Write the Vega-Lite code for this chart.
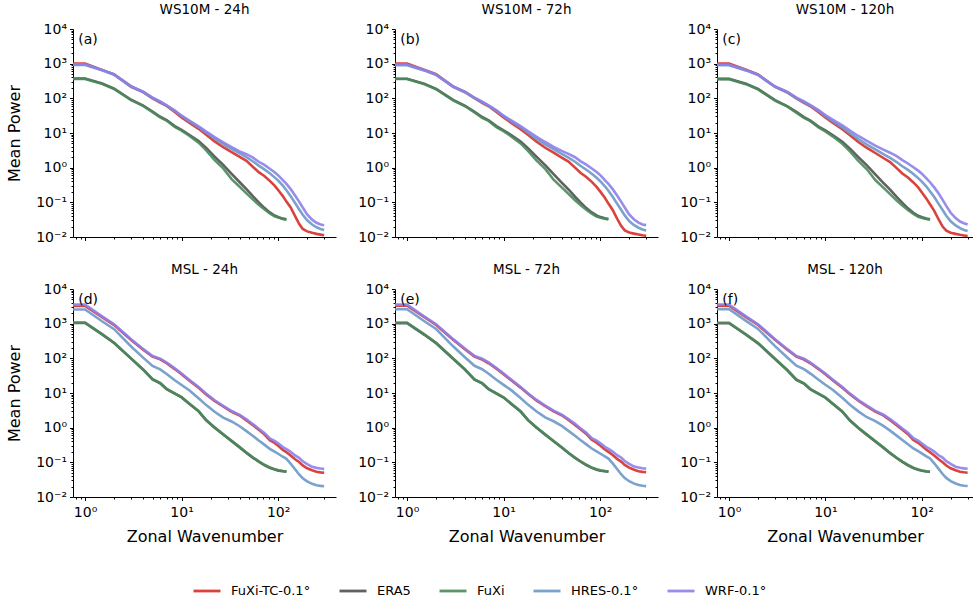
{
"$schema": "https://vega.github.io/schema/vega-lite/v6.json",
"background": "white",
"padding": {"left": 6, "top": 2, "right": 0, "bottom": 0},
"datasets": {
"lab": [{"p":"a","t":"(a)"},{"p":"b","t":"(b)"},{"p":"c","t":"(c)"},{"p":"d","t":"(d)"},{"p":"e","t":"(e)"},{"p":"f","t":"(f)"}],
"spec": [
{"p":"a","k":0.75,"TC":1000,"ERA5":372,"FuXi":363,"HRES":912,"WRF":955},
{"p":"a","k":1,"TC":1000,"ERA5":372,"FuXi":363,"HRES":912,"WRF":955},
{"p":"a","k":1.5,"TC":661,"ERA5":269,"FuXi":263,"HRES":646,"WRF":661},
{"p":"a","k":2,"TC":490,"ERA5":191,"FuXi":186,"HRES":479,"WRF":490},
{"p":"a","k":3,"TC":214,"ERA5":91.2,"FuXi":89.1,"HRES":219,"WRF":224},
{"p":"a","k":4,"TC":151,"ERA5":61.7,"FuXi":60.3,"HRES":151,"WRF":155},
{"p":"a","k":5,"TC":100,"ERA5":41.7,"FuXi":39.8,"HRES":102,"WRF":105},
{"p":"a","k":6,"TC":75.9,"ERA5":29.5,"FuXi":28.2,"HRES":79.4,"WRF":81.3},
{"p":"a","k":7,"TC":60.3,"ERA5":23.4,"FuXi":22.9,"HRES":61.7,"WRF":63.1},
{"p":"a","k":8.5,"TC":40.7,"ERA5":15.8,"FuXi":15.1,"HRES":43.7,"WRF":44.7},
{"p":"a","k":10,"TC":28.2,"ERA5":12.3,"FuXi":11.7,"HRES":30.9,"WRF":31.6},
{"p":"a","k":12,"TC":20.0,"ERA5":8.91,"FuXi":8.32,"HRES":21.9,"WRF":22.9},
{"p":"a","k":15,"TC":13.2,"ERA5":5.89,"FuXi":5.25,"HRES":14.8,"WRF":15.5},
{"p":"a","k":18,"TC":8.91,"ERA5":3.72,"FuXi":3.16,"HRES":10.2,"WRF":11.0},
{"p":"a","k":22,"TC":5.75,"ERA5":2.09,"FuXi":1.66,"HRES":6.92,"WRF":7.59},
{"p":"a","k":27,"TC":3.89,"ERA5":1.20,"FuXi":0.955,"HRES":4.79,"WRF":5.37},
{"p":"a","k":33,"TC":2.82,"ERA5":0.661,"FuXi":0.468,"HRES":3.47,"WRF":3.89},
{"p":"a","k":40,"TC":2.04,"ERA5":0.380,"FuXi":0.282,"HRES":2.57,"WRF":2.95},
{"p":"a","k":47,"TC":1.58,"ERA5":0.240,"FuXi":0.182,"HRES":2.00,"WRF":2.45},
{"p":"a","k":55,"TC":1.05,"ERA5":0.148,"FuXi":0.120,"HRES":1.51,"WRF":1.95},
{"p":"a","k":63,"TC":0.741,"ERA5":0.100,"FuXi":0.0851,"HRES":1.15,"WRF":1.48},
{"p":"a","k":72,"TC":0.575,"ERA5":0.0692,"FuXi":0.0631,"HRES":0.891,"WRF":1.20},
{"p":"a","k":82,"TC":0.417,"ERA5":0.0513,"FuXi":0.0479,"HRES":0.692,"WRF":0.933},
{"p":"a","k":92,"TC":0.302,"ERA5":0.0417,"FuXi":0.0398,"HRES":0.525,"WRF":0.741},
{"p":"a","k":101,"TC":0.219,"ERA5":0.0372,"FuXi":0.0363,"HRES":0.417,"WRF":0.589},
{"p":"a","k":112,"TC":0.151,"ERA5":0.0339,"FuXi":0.0331,"HRES":0.302,"WRF":0.437},
{"p":"a","k":122,"TC":0.105,"ERA5":0.0324,"FuXi":0.0316,"HRES":0.224,"WRF":0.339},
{"p":"a","k":135,"TC":0.0708,"HRES":0.151,"WRF":0.240},
{"p":"a","k":150,"TC":0.0398,"HRES":0.0955,"WRF":0.158},
{"p":"a","k":165,"TC":0.0240,"HRES":0.0631,"WRF":0.105},
{"p":"a","k":180,"TC":0.0170,"HRES":0.0437,"WRF":0.0708},
{"p":"a","k":200,"TC":0.0145,"HRES":0.0302,"WRF":0.0447},
{"p":"a","k":225,"TC":0.0132,"HRES":0.0229,"WRF":0.0316},
{"p":"a","k":250,"TC":0.0123,"HRES":0.0191,"WRF":0.0257},
{"p":"a","k":275,"TC":0.0117,"HRES":0.0170,"WRF":0.0229},
{"p":"a","k":300,"TC":0.0112,"HRES":0.0158,"WRF":0.0219},

{"p":"b","k":0.75,"TC":1000,"ERA5":368,"FuXi":360,"HRES":905,"WRF":950},
{"p":"b","k":1,"TC":1000,"ERA5":368,"FuXi":360,"HRES":905,"WRF":950},
{"p":"b","k":1.5,"TC":670,"ERA5":265,"FuXi":258,"HRES":640,"WRF":655},
{"p":"b","k":2,"TC":495,"ERA5":188,"FuXi":183,"HRES":470,"WRF":485},
{"p":"b","k":3,"TC":218,"ERA5":90,"FuXi":87,"HRES":215,"WRF":222},
{"p":"b","k":4,"TC":150,"ERA5":60.5,"FuXi":59,"HRES":150,"WRF":154},
{"p":"b","k":5,"TC":101,"ERA5":41,"FuXi":39,"HRES":101,"WRF":104},
{"p":"b","k":6,"TC":74,"ERA5":29,"FuXi":27.5,"HRES":78,"WRF":80},
{"p":"b","k":7,"TC":59,"ERA5":23,"FuXi":22.3,"HRES":61,"WRF":63},
{"p":"b","k":8.5,"TC":40,"ERA5":15.5,"FuXi":14.6,"HRES":43,"WRF":44.5},
{"p":"b","k":10,"TC":28,"ERA5":12.0,"FuXi":11.3,"HRES":30.5,"WRF":31.5},
{"p":"b","k":12,"TC":19.6,"ERA5":8.7,"FuXi":8.0,"HRES":21.5,"WRF":23},
{"p":"b","k":15,"TC":12.9,"ERA5":5.7,"FuXi":5.0,"HRES":14.6,"WRF":15.8},
{"p":"b","k":18,"TC":8.7,"ERA5":3.6,"FuXi":3.0,"HRES":10.0,"WRF":11.2},
{"p":"b","k":22,"TC":5.6,"ERA5":2.05,"FuXi":1.60,"HRES":6.8,"WRF":7.8},
{"p":"b","k":27,"TC":3.75,"ERA5":1.18,"FuXi":0.92,"HRES":4.7,"WRF":5.5},
{"p":"b","k":33,"TC":2.70,"ERA5":0.65,"FuXi":0.45,"HRES":3.4,"WRF":4.0},
{"p":"b","k":40,"TC":1.95,"ERA5":0.37,"FuXi":0.27,"HRES":2.5,"WRF":3.05},
{"p":"b","k":47,"TC":1.50,"ERA5":0.235,"FuXi":0.175,"HRES":1.95,"WRF":2.5},
{"p":"b","k":55,"TC":1.00,"ERA5":0.145,"FuXi":0.115,"HRES":1.48,"WRF":2.0},
{"p":"b","k":63,"TC":0.70,"ERA5":0.098,"FuXi":0.082,"HRES":1.12,"WRF":1.52},
{"p":"b","k":72,"TC":0.54,"ERA5":0.068,"FuXi":0.061,"HRES":0.87,"WRF":1.22},
{"p":"b","k":82,"TC":0.39,"ERA5":0.051,"FuXi":0.047,"HRES":0.67,"WRF":0.95},
{"p":"b","k":92,"TC":0.28,"ERA5":0.042,"FuXi":0.039,"HRES":0.51,"WRF":0.75},
{"p":"b","k":101,"TC":0.20,"ERA5":0.0375,"FuXi":0.036,"HRES":0.40,"WRF":0.60},
{"p":"b","k":112,"TC":0.135,"ERA5":0.0345,"FuXi":0.0335,"HRES":0.29,"WRF":0.44},
{"p":"b","k":122,"TC":0.092,"ERA5":0.033,"FuXi":0.032,"HRES":0.215,"WRF":0.34},
{"p":"b","k":135,"TC":0.060,"HRES":0.145,"WRF":0.24},
{"p":"b","k":150,"TC":0.034,"HRES":0.092,"WRF":0.158},
{"p":"b","k":165,"TC":0.021,"HRES":0.061,"WRF":0.105},
{"p":"b","k":180,"TC":0.0155,"HRES":0.042,"WRF":0.071},
{"p":"b","k":200,"TC":0.0135,"HRES":0.029,"WRF":0.045},
{"p":"b","k":225,"TC":0.0125,"HRES":0.022,"WRF":0.032},
{"p":"b","k":250,"TC":0.0118,"HRES":0.0185,"WRF":0.026},
{"p":"b","k":275,"TC":0.0112,"HRES":0.0165,"WRF":0.023},
{"p":"b","k":300,"TC":0.0108,"HRES":0.0155,"WRF":0.022},

{"p":"c","k":0.75,"TC":1000,"ERA5":365,"FuXi":358,"HRES":900,"WRF":950},
{"p":"c","k":1,"TC":1000,"ERA5":365,"FuXi":358,"HRES":900,"WRF":950},
{"p":"c","k":1.5,"TC":665,"ERA5":262,"FuXi":256,"HRES":640,"WRF":650},
{"p":"c","k":2,"TC":490,"ERA5":186,"FuXi":181,"HRES":470,"WRF":480},
{"p":"c","k":3,"TC":216,"ERA5":89,"FuXi":86,"HRES":214,"WRF":220},
{"p":"c","k":4,"TC":150,"ERA5":60,"FuXi":58.5,"HRES":150,"WRF":155},
{"p":"c","k":5,"TC":100,"ERA5":40.5,"FuXi":38.5,"HRES":101,"WRF":105},
{"p":"c","k":6,"TC":74,"ERA5":28.8,"FuXi":27.2,"HRES":78,"WRF":81},
{"p":"c","k":7,"TC":59,"ERA5":22.8,"FuXi":22,"HRES":61,"WRF":64},
{"p":"c","k":8.5,"TC":40,"ERA5":15.3,"FuXi":14.4,"HRES":43,"WRF":46},
{"p":"c","k":10,"TC":28,"ERA5":11.9,"FuXi":11.1,"HRES":30.5,"WRF":33},
{"p":"c","k":12,"TC":19.5,"ERA5":8.6,"FuXi":7.9,"HRES":21.5,"WRF":24},
{"p":"c","k":15,"TC":12.8,"ERA5":5.6,"FuXi":4.9,"HRES":14.5,"WRF":16.5},
{"p":"c","k":18,"TC":8.6,"ERA5":3.55,"FuXi":2.95,"HRES":9.9,"WRF":11.8},
{"p":"c","k":22,"TC":5.5,"ERA5":2.02,"FuXi":1.57,"HRES":6.7,"WRF":8.2},
{"p":"c","k":27,"TC":3.7,"ERA5":1.16,"FuXi":0.90,"HRES":4.6,"WRF":5.9},
{"p":"c","k":33,"TC":2.65,"ERA5":0.64,"FuXi":0.44,"HRES":3.35,"WRF":4.3},
{"p":"c","k":40,"TC":1.9,"ERA5":0.365,"FuXi":0.265,"HRES":2.45,"WRF":3.3},
{"p":"c","k":47,"TC":1.45,"ERA5":0.232,"FuXi":0.172,"HRES":1.92,"WRF":2.7},
{"p":"c","k":55,"TC":0.97,"ERA5":0.143,"FuXi":0.113,"HRES":1.45,"WRF":2.15},
{"p":"c","k":63,"TC":0.68,"ERA5":0.097,"FuXi":0.081,"HRES":1.10,"WRF":1.65},
{"p":"c","k":72,"TC":0.52,"ERA5":0.067,"FuXi":0.060,"HRES":0.86,"WRF":1.32},
{"p":"c","k":82,"TC":0.375,"ERA5":0.050,"FuXi":0.046,"HRES":0.66,"WRF":1.03},
{"p":"c","k":92,"TC":0.27,"ERA5":0.041,"FuXi":0.038,"HRES":0.50,"WRF":0.82},
{"p":"c","k":101,"TC":0.19,"ERA5":0.037,"FuXi":0.0355,"HRES":0.39,"WRF":0.66},
{"p":"c","k":112,"TC":0.128,"ERA5":0.034,"FuXi":0.033,"HRES":0.285,"WRF":0.49},
{"p":"c","k":122,"TC":0.088,"ERA5":0.0325,"FuXi":0.0315,"HRES":0.21,"WRF":0.38},
{"p":"c","k":135,"TC":0.057,"HRES":0.142,"WRF":0.27},
{"p":"c","k":150,"TC":0.032,"HRES":0.090,"WRF":0.18},
{"p":"c","k":165,"TC":0.020,"HRES":0.060,"WRF":0.118},
{"p":"c","k":180,"TC":0.0152,"HRES":0.041,"WRF":0.079},
{"p":"c","k":200,"TC":0.0133,"HRES":0.0285,"WRF":0.050},
{"p":"c","k":225,"TC":0.0123,"HRES":0.0215,"WRF":0.035},
{"p":"c","k":250,"TC":0.0116,"HRES":0.018,"WRF":0.028},
{"p":"c","k":275,"TC":0.0111,"HRES":0.016,"WRF":0.025},
{"p":"c","k":300,"TC":0.0106,"HRES":0.015,"WRF":0.023},

{"p":"d","k":0.75,"TC":3236,"ERA5":1050,"FuXi":1072,"HRES":2570,"WRF":3548},
{"p":"d","k":1,"TC":3236,"ERA5":1050,"FuXi":1072,"HRES":2570,"WRF":3548},
{"p":"d","k":1.5,"TC":1549,"ERA5":490,"FuXi":501,"HRES":1175,"WRF":1622},
{"p":"d","k":2,"TC":912,"ERA5":276,"FuXi":282,"HRES":692,"WRF":955},
{"p":"d","k":3,"TC":339,"ERA5":98,"FuXi":100,"HRES":219,"WRF":355},
{"p":"d","k":4,"TC":178,"ERA5":47,"FuXi":47.9,"HRES":105,"WRF":186},
{"p":"d","k":5,"TC":112,"ERA5":24.6,"FuXi":25.1,"HRES":60.3,"WRF":117},
{"p":"d","k":6,"TC":93.3,"ERA5":19.1,"FuXi":19.5,"HRES":47.9,"WRF":97.7},
{"p":"d","k":7,"TC":72.4,"ERA5":12.9,"FuXi":13.2,"HRES":35.5,"WRF":75.9},
{"p":"d","k":8.5,"TC":49.0,"ERA5":9.6,"FuXi":9.77,"HRES":23.4,"WRF":51.3},
{"p":"d","k":10,"TC":34.7,"ERA5":7.45,"FuXi":7.59,"HRES":17.0,"WRF":36.3},
{"p":"d","k":12,"TC":22.9,"ERA5":4.9,"FuXi":5.01,"HRES":12.0,"WRF":24.0},
{"p":"d","k":15,"TC":14.1,"ERA5":2.96,"FuXi":3.02,"HRES":7.08,"WRF":14.8},
{"p":"d","k":18,"TC":9.12,"ERA5":1.63,"FuXi":1.66,"HRES":4.47,"WRF":9.55},
{"p":"d","k":22,"TC":5.89,"ERA5":1.0,"FuXi":1.02,"HRES":2.88,"WRF":6.17},
{"p":"d","k":27,"TC":4.07,"ERA5":0.633,"FuXi":0.646,"HRES":1.95,"WRF":4.27},
{"p":"d","k":33,"TC":2.88,"ERA5":0.409,"FuXi":0.417,"HRES":1.51,"WRF":3.02},
{"p":"d","k":40,"TC":2.24,"ERA5":0.27,"FuXi":0.275,"HRES":1.10,"WRF":2.34},
{"p":"d","k":47,"TC":1.62,"ERA5":0.187,"FuXi":0.191,"HRES":0.794,"WRF":1.74},
{"p":"d","k":55,"TC":1.17,"ERA5":0.135,"FuXi":0.138,"HRES":0.575,"WRF":1.26},
{"p":"d","k":63,"TC":0.871,"ERA5":0.105,"FuXi":0.107,"HRES":0.427,"WRF":0.933},
{"p":"d","k":72,"TC":0.646,"ERA5":0.0834,"FuXi":0.0851,"HRES":0.324,"WRF":0.708},
{"p":"d","k":82,"TC":0.437,"ERA5":0.0694,"FuXi":0.0708,"HRES":0.245,"WRF":0.490},
{"p":"d","k":92,"TC":0.363,"ERA5":0.0618,"FuXi":0.0631,"HRES":0.204,"WRF":0.417},
{"p":"d","k":101,"TC":0.295,"ERA5":0.0577,"FuXi":0.0589,"HRES":0.174,"WRF":0.347},
{"p":"d","k":112,"TC":0.229,"ERA5":0.0551,"FuXi":0.0562,"HRES":0.145,"WRF":0.275},
{"p":"d","k":122,"TC":0.195,"ERA5":0.0539,"FuXi":0.0550,"HRES":0.126,"WRF":0.240},
{"p":"d","k":135,"TC":0.158,"HRES":0.0912,"WRF":0.200},
{"p":"d","k":150,"TC":0.123,"HRES":0.0631,"WRF":0.158},
{"p":"d","k":165,"TC":0.102,"HRES":0.0447,"WRF":0.135},
{"p":"d","k":180,"TC":0.0813,"HRES":0.0347,"WRF":0.107},
{"p":"d","k":200,"TC":0.0676,"HRES":0.0282,"WRF":0.0891},
{"p":"d","k":225,"TC":0.0589,"HRES":0.0240,"WRF":0.0741},
{"p":"d","k":250,"TC":0.0537,"HRES":0.0219,"WRF":0.0692},
{"p":"d","k":275,"TC":0.0513,"HRES":0.0209,"WRF":0.0661},
{"p":"d","k":300,"TC":0.0501,"HRES":0.0204,"WRF":0.0646},

{"p":"e","k":0.75,"TC":3300,"ERA5":1040,"FuXi":1065,"HRES":2600,"WRF":3550},
{"p":"e","k":1,"TC":3300,"ERA5":1040,"FuXi":1065,"HRES":2600,"WRF":3550},
{"p":"e","k":1.5,"TC":1560,"ERA5":485,"FuXi":498,"HRES":1190,"WRF":1630},
{"p":"e","k":2,"TC":920,"ERA5":272,"FuXi":280,"HRES":700,"WRF":960},
{"p":"e","k":3,"TC":345,"ERA5":97,"FuXi":99,"HRES":222,"WRF":358},
{"p":"e","k":4,"TC":180,"ERA5":46.5,"FuXi":47.5,"HRES":106,"WRF":188},
{"p":"e","k":5,"TC":113,"ERA5":24.2,"FuXi":24.8,"HRES":61,"WRF":118},
{"p":"e","k":6,"TC":92,"ERA5":18.9,"FuXi":19.3,"HRES":48.5,"WRF":97},
{"p":"e","k":7,"TC":72,"ERA5":12.8,"FuXi":13.1,"HRES":36,"WRF":76},
{"p":"e","k":8.5,"TC":49.5,"ERA5":9.5,"FuXi":9.7,"HRES":23.8,"WRF":51.5},
{"p":"e","k":10,"TC":35,"ERA5":7.4,"FuXi":7.55,"HRES":17.2,"WRF":36.5},
{"p":"e","k":12,"TC":23.2,"ERA5":4.85,"FuXi":4.95,"HRES":12.1,"WRF":24.3},
{"p":"e","k":15,"TC":14.3,"ERA5":2.92,"FuXi":2.98,"HRES":7.2,"WRF":15.0},
{"p":"e","k":18,"TC":9.3,"ERA5":1.62,"FuXi":1.65,"HRES":4.55,"WRF":9.7},
{"p":"e","k":22,"TC":6.0,"ERA5":0.99,"FuXi":1.01,"HRES":2.92,"WRF":6.3},
{"p":"e","k":27,"TC":4.15,"ERA5":0.625,"FuXi":0.64,"HRES":1.98,"WRF":4.35},
{"p":"e","k":33,"TC":2.95,"ERA5":0.405,"FuXi":0.413,"HRES":1.53,"WRF":3.08},
{"p":"e","k":40,"TC":2.28,"ERA5":0.268,"FuXi":0.273,"HRES":1.12,"WRF":2.38},
{"p":"e","k":47,"TC":1.66,"ERA5":0.185,"FuXi":0.189,"HRES":0.81,"WRF":1.77},
{"p":"e","k":55,"TC":1.20,"ERA5":0.134,"FuXi":0.137,"HRES":0.585,"WRF":1.29},
{"p":"e","k":63,"TC":0.89,"ERA5":0.104,"FuXi":0.106,"HRES":0.435,"WRF":0.95},
{"p":"e","k":72,"TC":0.66,"ERA5":0.083,"FuXi":0.085,"HRES":0.33,"WRF":0.72},
{"p":"e","k":82,"TC":0.45,"ERA5":0.069,"FuXi":0.0705,"HRES":0.25,"WRF":0.50},
{"p":"e","k":92,"TC":0.37,"ERA5":0.0615,"FuXi":0.063,"HRES":0.208,"WRF":0.425},
{"p":"e","k":101,"TC":0.30,"ERA5":0.0575,"FuXi":0.0587,"HRES":0.177,"WRF":0.352},
{"p":"e","k":112,"TC":0.235,"ERA5":0.055,"FuXi":0.056,"HRES":0.148,"WRF":0.28},
{"p":"e","k":122,"TC":0.20,"ERA5":0.0538,"FuXi":0.0548,"HRES":0.128,"WRF":0.245},
{"p":"e","k":135,"TC":0.162,"HRES":0.093,"WRF":0.204},
{"p":"e","k":150,"TC":0.126,"HRES":0.064,"WRF":0.161},
{"p":"e","k":165,"TC":0.105,"HRES":0.0455,"WRF":0.138},
{"p":"e","k":180,"TC":0.084,"HRES":0.0352,"WRF":0.109},
{"p":"e","k":200,"TC":0.070,"HRES":0.0285,"WRF":0.0905},
{"p":"e","k":225,"TC":0.061,"HRES":0.0243,"WRF":0.0755},
{"p":"e","k":250,"TC":0.0555,"HRES":0.0221,"WRF":0.0705},
{"p":"e","k":275,"TC":0.053,"HRES":0.0211,"WRF":0.0672},
{"p":"e","k":300,"TC":0.0518,"HRES":0.0206,"WRF":0.0658},

{"p":"f","k":0.75,"TC":3280,"ERA5":1030,"FuXi":1060,"HRES":2620,"WRF":3560},
{"p":"f","k":1,"TC":3280,"ERA5":1030,"FuXi":1060,"HRES":2620,"WRF":3560},
{"p":"f","k":1.5,"TC":1550,"ERA5":480,"FuXi":495,"HRES":1200,"WRF":1625},
{"p":"f","k":2,"TC":915,"ERA5":270,"FuXi":278,"HRES":705,"WRF":958},
{"p":"f","k":3,"TC":342,"ERA5":96,"FuXi":98,"HRES":224,"WRF":356},
{"p":"f","k":4,"TC":179,"ERA5":46,"FuXi":47,"HRES":107,"WRF":187},
{"p":"f","k":5,"TC":112,"ERA5":24,"FuXi":24.6,"HRES":61.5,"WRF":117},
{"p":"f","k":6,"TC":92.5,"ERA5":18.7,"FuXi":19.1,"HRES":48.8,"WRF":97.5},
{"p":"f","k":7,"TC":72,"ERA5":12.7,"FuXi":13.0,"HRES":36.3,"WRF":75.5},
{"p":"f","k":8.5,"TC":49,"ERA5":9.4,"FuXi":9.6,"HRES":24,"WRF":51},
{"p":"f","k":10,"TC":34.8,"ERA5":7.3,"FuXi":7.48,"HRES":17.3,"WRF":36.3},
{"p":"f","k":12,"TC":23,"ERA5":4.8,"FuXi":4.9,"HRES":12.2,"WRF":24.1},
{"p":"f","k":15,"TC":14.2,"ERA5":2.9,"FuXi":2.95,"HRES":7.25,"WRF":14.9},
{"p":"f","k":18,"TC":9.2,"ERA5":1.6,"FuXi":1.63,"HRES":4.6,"WRF":9.6},
{"p":"f","k":22,"TC":5.95,"ERA5":0.98,"FuXi":1.0,"HRES":2.95,"WRF":6.25},
{"p":"f","k":27,"TC":4.1,"ERA5":0.62,"FuXi":0.635,"HRES":2.0,"WRF":4.3},
{"p":"f","k":33,"TC":2.92,"ERA5":0.4,"FuXi":0.41,"HRES":1.55,"WRF":3.05},
{"p":"f","k":40,"TC":2.26,"ERA5":0.265,"FuXi":0.27,"HRES":1.13,"WRF":2.36},
{"p":"f","k":47,"TC":1.64,"ERA5":0.183,"FuXi":0.187,"HRES":0.82,"WRF":1.76},
{"p":"f","k":55,"TC":1.18,"ERA5":0.133,"FuXi":0.136,"HRES":0.59,"WRF":1.28},
{"p":"f","k":63,"TC":0.875,"ERA5":0.103,"FuXi":0.105,"HRES":0.44,"WRF":0.945},
{"p":"f","k":72,"TC":0.65,"ERA5":0.082,"FuXi":0.084,"HRES":0.333,"WRF":0.715},
{"p":"f","k":82,"TC":0.44,"ERA5":0.068,"FuXi":0.0698,"HRES":0.252,"WRF":0.497},
{"p":"f","k":92,"TC":0.365,"ERA5":0.061,"FuXi":0.0625,"HRES":0.21,"WRF":0.42},
{"p":"f","k":101,"TC":0.296,"ERA5":0.057,"FuXi":0.0582,"HRES":0.178,"WRF":0.35},
{"p":"f","k":112,"TC":0.23,"ERA5":0.0545,"FuXi":0.0556,"HRES":0.149,"WRF":0.279},
{"p":"f","k":122,"TC":0.196,"ERA5":0.0533,"FuXi":0.0544,"HRES":0.129,"WRF":0.244},
{"p":"f","k":135,"TC":0.158,"HRES":0.094,"WRF":0.203},
{"p":"f","k":150,"TC":0.122,"HRES":0.065,"WRF":0.160},
{"p":"f","k":165,"TC":0.101,"HRES":0.046,"WRF":0.137},
{"p":"f","k":180,"TC":0.081,"HRES":0.0355,"WRF":0.108},
{"p":"f","k":200,"TC":0.0675,"HRES":0.0287,"WRF":0.090},
{"p":"f","k":225,"TC":0.059,"HRES":0.0245,"WRF":0.075},
{"p":"f","k":250,"TC":0.0538,"HRES":0.0222,"WRF":0.0702},
{"p":"f","k":275,"TC":0.0515,"HRES":0.0212,"WRF":0.067},
{"p":"f","k":300,"TC":0.0503,"HRES":0.0207,"WRF":0.0655}
]
},
"columns": 3,
"spacing": {"row": 52, "column": 59},
"bounds": "flush",
"concat": [
{"width": 263, "height": 208, "title": "WS10M - 24h",
 "layer": [
  {"data": {"name": "spec"},
   "transform": [{"filter": "datum.p == 'a'"}, {"fold": ["TC","ERA5","FuXi","HRES","WRF"], "as": ["s","v"]}, {"filter": "isValid(datum.v)"}],
   "mark": {"type": "line", "strokeWidth": 2.6, "opacity": 0.9, "clip": true},
   "encoding": {
    "x": {"field": "k", "type": "quantitative", "scale": {"type": "log", "domain": [0.75, 398], "nice": false}, "axis": {"values": [1,10,100], "labels": false, "title": null}},
    "y": {"field": "v", "type": "quantitative", "scale": {"type": "log", "domain": [0.01, 10000], "nice": false}, "axis": {"values": [0.01,0.1,1,10,100,1000,10000], "labelExpr": "['10⁻²','10⁻¹','10⁰','10¹','10²','10³','10⁴'][round(log(datum.value)/LN10)+2]", "title": "Mean Power", "titlePadding": 13}},
    "color": {"field": "s", "type": "nominal", "scale": {"domain": ["TC","ERA5","FuXi","HRES","WRF"], "range": ["#d62f28","#505050","#4b8a5b","#6c98c6","#8d80ea"]}, "legend": {"title": null, "labelExpr": "{'TC':'FuXi-TC-0.1°','ERA5':'ERA5','FuXi':'FuXi','HRES':'HRES-0.1°','WRF':'WRF-0.1°'}[datum.label]"}}
   }},
  {"data": {"name": "lab"}, "transform": [{"filter": "datum.p == 'a'"}],
   "mark": {"type": "text", "align": "left", "baseline": "middle", "fontSize": 14},
   "encoding": {
    "x": {"datum": 0.85, "type": "quantitative", "axis": {"values": [0.8,0.9,2,3,4,5,6,7,8,9,20,30,40,50,60,70,80,90,200,300], "labels": false, "title": null, "domain": false, "tickSize": 2, "orient": "bottom"}},
    "y": {"datum": 4800, "type": "quantitative", "axis": {"values": [0.02,0.03,0.04,0.05,0.06,0.07,0.08,0.09,0.2,0.3,0.4,0.5,0.6,0.7,0.8,0.9,2,3,4,5,6,7,8,9,20,30,40,50,60,70,80,90,200,300,400,500,600,700,800,900,2000,3000,4000,5000,6000,7000,8000,9000], "labels": false, "title": null, "domain": false, "tickSize": 2, "orient": "left"}},
    "text": {"field": "t"}
   }}
 ],
 "resolve": {"axis": {"x": "independent", "y": "independent"}}
},
{"width": 263, "height": 208, "title": "WS10M - 72h",
 "layer": [
  {"data": {"name": "spec"},
   "transform": [{"filter": "datum.p == 'b'"}, {"fold": ["TC","ERA5","FuXi","HRES","WRF"], "as": ["s","v"]}, {"filter": "isValid(datum.v)"}],
   "mark": {"type": "line", "strokeWidth": 2.6, "opacity": 0.9, "clip": true},
   "encoding": {
    "x": {"field": "k", "type": "quantitative", "scale": {"type": "log", "domain": [0.75, 398], "nice": false}, "axis": {"values": [1,10,100], "labels": false, "title": null}},
    "y": {"field": "v", "type": "quantitative", "scale": {"type": "log", "domain": [0.01, 10000], "nice": false}, "axis": {"values": [0.01,0.1,1,10,100,1000,10000], "labelExpr": "['10⁻²','10⁻¹','10⁰','10¹','10²','10³','10⁴'][round(log(datum.value)/LN10)+2]", "title": null}},
    "color": {"field": "s", "type": "nominal", "scale": {"domain": ["TC","ERA5","FuXi","HRES","WRF"], "range": ["#d62f28","#505050","#4b8a5b","#6c98c6","#8d80ea"]}, "legend": {"title": null, "labelExpr": "{'TC':'FuXi-TC-0.1°','ERA5':'ERA5','FuXi':'FuXi','HRES':'HRES-0.1°','WRF':'WRF-0.1°'}[datum.label]"}}
   }},
  {"data": {"name": "lab"}, "transform": [{"filter": "datum.p == 'b'"}],
   "mark": {"type": "text", "align": "left", "baseline": "middle", "fontSize": 14},
   "encoding": {
    "x": {"datum": 0.85, "type": "quantitative", "axis": {"values": [0.8,0.9,2,3,4,5,6,7,8,9,20,30,40,50,60,70,80,90,200,300], "labels": false, "title": null, "domain": false, "tickSize": 2, "orient": "bottom"}},
    "y": {"datum": 4800, "type": "quantitative", "axis": {"values": [0.02,0.03,0.04,0.05,0.06,0.07,0.08,0.09,0.2,0.3,0.4,0.5,0.6,0.7,0.8,0.9,2,3,4,5,6,7,8,9,20,30,40,50,60,70,80,90,200,300,400,500,600,700,800,900,2000,3000,4000,5000,6000,7000,8000,9000], "labels": false, "title": null, "domain": false, "tickSize": 2, "orient": "left"}},
    "text": {"field": "t"}
   }}
 ],
 "resolve": {"axis": {"x": "independent", "y": "independent"}}
},
{"width": 256, "height": 208, "title": "WS10M - 120h",
 "layer": [
  {"data": {"name": "spec"},
   "transform": [{"filter": "datum.p == 'c'"}, {"fold": ["TC","ERA5","FuXi","HRES","WRF"], "as": ["s","v"]}, {"filter": "isValid(datum.v)"}],
   "mark": {"type": "line", "strokeWidth": 2.6, "opacity": 0.9, "clip": true},
   "encoding": {
    "x": {"field": "k", "type": "quantitative", "scale": {"type": "log", "domain": [0.75, 341], "nice": false}, "axis": {"values": [1,10,100], "labels": false, "title": null}},
    "y": {"field": "v", "type": "quantitative", "scale": {"type": "log", "domain": [0.01, 10000], "nice": false}, "axis": {"values": [0.01,0.1,1,10,100,1000,10000], "labelExpr": "['10⁻²','10⁻¹','10⁰','10¹','10²','10³','10⁴'][round(log(datum.value)/LN10)+2]", "title": null}},
    "color": {"field": "s", "type": "nominal", "scale": {"domain": ["TC","ERA5","FuXi","HRES","WRF"], "range": ["#d62f28","#505050","#4b8a5b","#6c98c6","#8d80ea"]}, "legend": {"title": null, "labelExpr": "{'TC':'FuXi-TC-0.1°','ERA5':'ERA5','FuXi':'FuXi','HRES':'HRES-0.1°','WRF':'WRF-0.1°'}[datum.label]"}}
   }},
  {"data": {"name": "lab"}, "transform": [{"filter": "datum.p == 'c'"}],
   "mark": {"type": "text", "align": "left", "baseline": "middle", "fontSize": 14},
   "encoding": {
    "x": {"datum": 0.85, "type": "quantitative", "axis": {"values": [0.8,0.9,2,3,4,5,6,7,8,9,20,30,40,50,60,70,80,90,200,300], "labels": false, "title": null, "domain": false, "tickSize": 2, "orient": "bottom"}},
    "y": {"datum": 4800, "type": "quantitative", "axis": {"values": [0.02,0.03,0.04,0.05,0.06,0.07,0.08,0.09,0.2,0.3,0.4,0.5,0.6,0.7,0.8,0.9,2,3,4,5,6,7,8,9,20,30,40,50,60,70,80,90,200,300,400,500,600,700,800,900,2000,3000,4000,5000,6000,7000,8000,9000], "labels": false, "title": null, "domain": false, "tickSize": 2, "orient": "left"}},
    "text": {"field": "t"}
   }}
 ],
 "resolve": {"axis": {"x": "independent", "y": "independent"}}
},
{"width": 263, "height": 208, "title": "MSL - 24h",
 "layer": [
  {"data": {"name": "spec"},
   "transform": [{"filter": "datum.p == 'd'"}, {"fold": ["TC","ERA5","FuXi","HRES","WRF"], "as": ["s","v"]}, {"filter": "isValid(datum.v)"}],
   "mark": {"type": "line", "strokeWidth": 2.6, "opacity": 0.9, "clip": true},
   "encoding": {
    "x": {"field": "k", "type": "quantitative", "scale": {"type": "log", "domain": [0.75, 398], "nice": false}, "axis": {"values": [1,10,100], "labelExpr": "['10⁰','10¹','10²'][round(log(datum.value)/LN10)]", "title": "Zonal Wavenumber", "labelPadding": 5, "titlePadding": 9}},
    "y": {"field": "v", "type": "quantitative", "scale": {"type": "log", "domain": [0.01, 10000], "nice": false}, "axis": {"values": [0.01,0.1,1,10,100,1000,10000], "labelExpr": "['10⁻²','10⁻¹','10⁰','10¹','10²','10³','10⁴'][round(log(datum.value)/LN10)+2]", "title": "Mean Power", "titlePadding": 13}},
    "color": {"field": "s", "type": "nominal", "scale": {"domain": ["TC","ERA5","FuXi","HRES","WRF"], "range": ["#d62f28","#505050","#4b8a5b","#6c98c6","#8d80ea"]}, "legend": {"title": null, "labelExpr": "{'TC':'FuXi-TC-0.1°','ERA5':'ERA5','FuXi':'FuXi','HRES':'HRES-0.1°','WRF':'WRF-0.1°'}[datum.label]"}}
   }},
  {"data": {"name": "lab"}, "transform": [{"filter": "datum.p == 'd'"}],
   "mark": {"type": "text", "align": "left", "baseline": "middle", "fontSize": 14},
   "encoding": {
    "x": {"datum": 0.85, "type": "quantitative", "axis": {"values": [0.8,0.9,2,3,4,5,6,7,8,9,20,30,40,50,60,70,80,90,200,300], "labels": false, "title": null, "domain": false, "tickSize": 2, "orient": "bottom"}},
    "y": {"datum": 4800, "type": "quantitative", "axis": {"values": [0.02,0.03,0.04,0.05,0.06,0.07,0.08,0.09,0.2,0.3,0.4,0.5,0.6,0.7,0.8,0.9,2,3,4,5,6,7,8,9,20,30,40,50,60,70,80,90,200,300,400,500,600,700,800,900,2000,3000,4000,5000,6000,7000,8000,9000], "labels": false, "title": null, "domain": false, "tickSize": 2, "orient": "left"}},
    "text": {"field": "t"}
   }}
 ],
 "resolve": {"axis": {"x": "independent", "y": "independent"}}
},
{"width": 263, "height": 208, "title": "MSL - 72h",
 "layer": [
  {"data": {"name": "spec"},
   "transform": [{"filter": "datum.p == 'e'"}, {"fold": ["TC","ERA5","FuXi","HRES","WRF"], "as": ["s","v"]}, {"filter": "isValid(datum.v)"}],
   "mark": {"type": "line", "strokeWidth": 2.6, "opacity": 0.9, "clip": true},
   "encoding": {
    "x": {"field": "k", "type": "quantitative", "scale": {"type": "log", "domain": [0.75, 398], "nice": false}, "axis": {"values": [1,10,100], "labelExpr": "['10⁰','10¹','10²'][round(log(datum.value)/LN10)]", "title": "Zonal Wavenumber", "labelPadding": 5, "titlePadding": 9}},
    "y": {"field": "v", "type": "quantitative", "scale": {"type": "log", "domain": [0.01, 10000], "nice": false}, "axis": {"values": [0.01,0.1,1,10,100,1000,10000], "labelExpr": "['10⁻²','10⁻¹','10⁰','10¹','10²','10³','10⁴'][round(log(datum.value)/LN10)+2]", "title": null}},
    "color": {"field": "s", "type": "nominal", "scale": {"domain": ["TC","ERA5","FuXi","HRES","WRF"], "range": ["#d62f28","#505050","#4b8a5b","#6c98c6","#8d80ea"]}, "legend": {"title": null, "labelExpr": "{'TC':'FuXi-TC-0.1°','ERA5':'ERA5','FuXi':'FuXi','HRES':'HRES-0.1°','WRF':'WRF-0.1°'}[datum.label]"}}
   }},
  {"data": {"name": "lab"}, "transform": [{"filter": "datum.p == 'e'"}],
   "mark": {"type": "text", "align": "left", "baseline": "middle", "fontSize": 14},
   "encoding": {
    "x": {"datum": 0.85, "type": "quantitative", "axis": {"values": [0.8,0.9,2,3,4,5,6,7,8,9,20,30,40,50,60,70,80,90,200,300], "labels": false, "title": null, "domain": false, "tickSize": 2, "orient": "bottom"}},
    "y": {"datum": 4800, "type": "quantitative", "axis": {"values": [0.02,0.03,0.04,0.05,0.06,0.07,0.08,0.09,0.2,0.3,0.4,0.5,0.6,0.7,0.8,0.9,2,3,4,5,6,7,8,9,20,30,40,50,60,70,80,90,200,300,400,500,600,700,800,900,2000,3000,4000,5000,6000,7000,8000,9000], "labels": false, "title": null, "domain": false, "tickSize": 2, "orient": "left"}},
    "text": {"field": "t"}
   }}
 ],
 "resolve": {"axis": {"x": "independent", "y": "independent"}}
},
{"width": 256, "height": 208, "title": "MSL - 120h",
 "layer": [
  {"data": {"name": "spec"},
   "transform": [{"filter": "datum.p == 'f'"}, {"fold": ["TC","ERA5","FuXi","HRES","WRF"], "as": ["s","v"]}, {"filter": "isValid(datum.v)"}],
   "mark": {"type": "line", "strokeWidth": 2.6, "opacity": 0.9, "clip": true},
   "encoding": {
    "x": {"field": "k", "type": "quantitative", "scale": {"type": "log", "domain": [0.75, 341], "nice": false}, "axis": {"values": [1,10,100], "labelExpr": "['10⁰','10¹','10²'][round(log(datum.value)/LN10)]", "title": "Zonal Wavenumber", "labelPadding": 5, "titlePadding": 9}},
    "y": {"field": "v", "type": "quantitative", "scale": {"type": "log", "domain": [0.01, 10000], "nice": false}, "axis": {"values": [0.01,0.1,1,10,100,1000,10000], "labelExpr": "['10⁻²','10⁻¹','10⁰','10¹','10²','10³','10⁴'][round(log(datum.value)/LN10)+2]", "title": null}},
    "color": {"field": "s", "type": "nominal", "scale": {"domain": ["TC","ERA5","FuXi","HRES","WRF"], "range": ["#d62f28","#505050","#4b8a5b","#6c98c6","#8d80ea"]}, "legend": {"title": null, "labelExpr": "{'TC':'FuXi-TC-0.1°','ERA5':'ERA5','FuXi':'FuXi','HRES':'HRES-0.1°','WRF':'WRF-0.1°'}[datum.label]"}}
   }},
  {"data": {"name": "lab"}, "transform": [{"filter": "datum.p == 'f'"}],
   "mark": {"type": "text", "align": "left", "baseline": "middle", "fontSize": 14},
   "encoding": {
    "x": {"datum": 0.85, "type": "quantitative", "axis": {"values": [0.8,0.9,2,3,4,5,6,7,8,9,20,30,40,50,60,70,80,90,200,300], "labels": false, "title": null, "domain": false, "tickSize": 2, "orient": "bottom"}},
    "y": {"datum": 4800, "type": "quantitative", "axis": {"values": [0.02,0.03,0.04,0.05,0.06,0.07,0.08,0.09,0.2,0.3,0.4,0.5,0.6,0.7,0.8,0.9,2,3,4,5,6,7,8,9,20,30,40,50,60,70,80,90,200,300,400,500,600,700,800,900,2000,3000,4000,5000,6000,7000,8000,9000], "labels": false, "title": null, "domain": false, "tickSize": 2, "orient": "left"}},
    "text": {"field": "t"}
   }}
 ],
 "resolve": {"axis": {"x": "independent", "y": "independent"}}
}
],
"config": {
 "font": "DejaVu Sans",
 "view": {"stroke": null},
 "axis": {"domainColor": "#000", "tickColor": "#000", "labelColor": "#000", "titleColor": "#000", "labelFontSize": 14, "titleFontSize": 16, "titleFontWeight": "normal", "grid": false, "tickSize": 3.5, "labelPadding": 3, "domainWidth": 1, "tickWidth": 1, "titlePadding": 6},
 "title": {"fontSize": 13.5, "fontWeight": "normal", "color": "#000", "offset": 6},
 "text": {"color": "#000"},
 "legend": {"orient": "none", "legendX": 119, "legendY": 547, "direction": "horizontal", "symbolType": "stroke", "symbolSize": 729, "symbolStrokeWidth": 2.8, "labelFontSize": 13, "columnPadding": 22, "labelOffset": 9, "labelColor": "#000"}
}
}
